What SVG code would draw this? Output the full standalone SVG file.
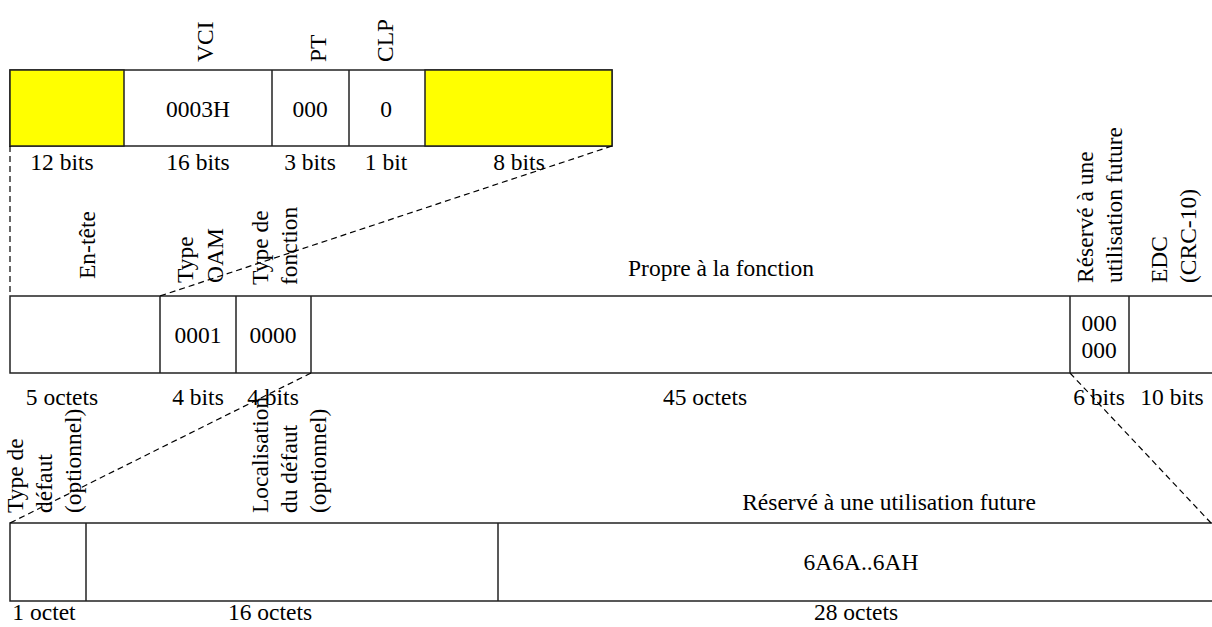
<svg xmlns="http://www.w3.org/2000/svg" width="1212" height="627" viewBox="0 0 1212 627">
<style>
text{font-family:"Liberation Serif","Times New Roman",serif;font-size:23.5px;fill:#000}
.c{text-anchor:middle}
.box{fill:#fff;stroke:#222;stroke-width:1.5}
.y{fill:#ffff00;stroke:#222;stroke-width:1.5}
.ln{stroke:#222;stroke-width:1.5;fill:none}
.d{stroke:#000;stroke-width:1.2;stroke-dasharray:6,4;fill:none}
</style>
<rect width="1212" height="627" fill="#fff"/>
<g id="row1">
<rect class="box" x="10" y="70" width="602" height="76"/>
<rect class="y" x="10" y="70" width="114" height="76"/>
<rect class="y" x="425" y="70" width="187" height="76"/>
<line class="ln" x1="272" y1="70" x2="272" y2="146"/>
<line class="ln" x1="349" y1="70" x2="349" y2="146"/>
<text class="c" x="198" y="117">0003H</text>
<text class="c" x="310" y="117">000</text>
<text class="c" x="386" y="117">0</text>
<text transform="translate(213,62) rotate(-90)">VCI</text>
<text transform="translate(326,62) rotate(-90)">PT</text>
<text transform="translate(393,62) rotate(-90)">CLP</text>
<text class="c" x="62" y="170">12 bits</text>
<text class="c" x="198" y="170">16 bits</text>
<text class="c" x="310" y="170">3 bits</text>
<text class="c" x="386" y="170">1 bit</text>
<text class="c" x="519" y="170">8 bits</text>
</g>
<g id="row2">
<path class="ln" d="M1212,296 H10 V373 H1212"/>
<line class="ln" x1="160" y1="296" x2="160" y2="373"/>
<line class="ln" x1="236" y1="296" x2="236" y2="373"/>
<line class="ln" x1="311" y1="296" x2="311" y2="373"/>
<line class="ln" x1="1070" y1="296" x2="1070" y2="373"/>
<line class="ln" x1="1129" y1="296" x2="1129" y2="373"/>
<text class="c" x="198" y="343">0001</text>
<text class="c" x="273" y="343">0000</text>
<text class="c" x="1099" y="331">000</text>
<text class="c" x="1099" y="358">000</text>
<text transform="translate(95,279) rotate(-90)">En-tête</text>
<text transform="translate(193,283) rotate(-90)">Type</text>
<text transform="translate(223,283) rotate(-90)">OAM</text>
<text transform="translate(268,285) rotate(-90)">Type de</text>
<text transform="translate(297,285) rotate(-90)">fonction</text>
<text class="c" x="721" y="276">Propre à la fonction</text>
<text transform="translate(1093,283) rotate(-90)">Réservé à une</text>
<text transform="translate(1122,283) rotate(-90)">utilisation future</text>
<text transform="translate(1167,283) rotate(-90)">EDC</text>
<text transform="translate(1196,283) rotate(-90)">(CRC-10)</text>
<text class="c" x="62" y="405">5 octets</text>
<text class="c" x="198" y="405">4 bits</text>
<text class="c" x="273" y="405">4 bits</text>
<text class="c" x="705" y="405">45 octets</text>
<text class="c" x="1099" y="405">6 bits</text>
<text class="c" x="1172" y="405">10 bits</text>
</g>
<g id="row3">
<path class="ln" d="M1212,523 H10 V601 H1212"/>
<line class="ln" x1="86" y1="523" x2="86" y2="601"/>
<line class="ln" x1="498" y1="523" x2="498" y2="601"/>
<text transform="translate(23,513) rotate(-90)">Type de</text>
<text transform="translate(52,513) rotate(-90)">défaut</text>
<text transform="translate(81,513) rotate(-90)">(optionnel)</text>
<text transform="translate(268,513) rotate(-90)">Localisation</text>
<text transform="translate(297,513) rotate(-90)">du défaut</text>
<text transform="translate(326,513) rotate(-90)">(optionnel)</text>
<text class="c" x="889" y="510">Réservé à une utilisation future</text>
<text class="c" x="861" y="570">6A6A..6AH</text>
<text class="c" x="44" y="620">1 octet</text>
<text class="c" x="270" y="620">16 octets</text>
<text class="c" x="856" y="620">28 octets</text>
</g>
<g id="connectors">
<line class="d" x1="10" y1="146" x2="10" y2="296"/>
<line class="d" x1="612" y1="146" x2="160" y2="296"/>
<line class="d" x1="311" y1="373" x2="10" y2="523"/>
<line class="d" x1="1070" y1="373" x2="1211" y2="523"/>
</g>
</svg>
